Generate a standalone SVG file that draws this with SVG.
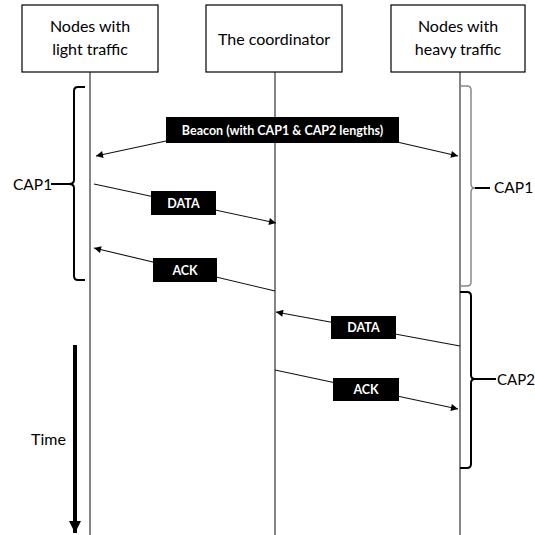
<svg xmlns="http://www.w3.org/2000/svg" width="535" height="535" viewBox="0 0 535 535">
<defs>
<marker id="ah" viewBox="0 0 10 10" refX="10" refY="5" markerWidth="9" markerHeight="7" markerUnits="userSpaceOnUse" orient="auto">
<path d="M0,0 L10,5 L0,10 z" fill="#000"/>
</marker>
<marker id="tah" viewBox="0 0 10 10" refX="10" refY="5" markerWidth="12" markerHeight="12" markerUnits="userSpaceOnUse" orient="auto">
<path d="M0,0 L10,5 L0,10 z" fill="#000"/>
</marker>
</defs>
<style>
.box{fill:#fff;stroke:#000;stroke-width:1.2}
.hdr{font-family:Lato,"Liberation Sans",sans-serif;font-size:16px;fill:#000;text-anchor:middle}
.life{stroke:#222;stroke-width:1.1;fill:none}
.msg{stroke:#111;stroke-width:1.1;fill:none}
.lbl{fill:#000}
.lt{font-family:Lato,"Liberation Sans",sans-serif;font-weight:bold;font-size:12.5px;fill:#fff;text-anchor:middle}
.brace{fill:none;stroke:#000;stroke-width:2}
.brace2{fill:none;stroke:#888;stroke-width:1.5}
.cap{font-family:Lato,"Liberation Sans",sans-serif;font-size:15.5px;fill:#000}
</style>
<g id="node-light">
<rect class="box" x="22" y="5" width="136" height="67"/>
<text class="hdr" x="90" y="32">Nodes with</text>
<text class="hdr" x="90" y="55">light traffic</text>
<line class="life" x1="90" y1="72" x2="90" y2="535"/>
</g>
<g id="node-coord">
<rect class="box" x="206" y="5" width="136" height="67"/>
<text class="hdr" x="274" y="45">The coordinator</text>
<line class="life" x1="275" y1="72" x2="275" y2="535"/>
</g>
<g id="node-heavy">
<rect class="box" x="391" y="5" width="134" height="67"/>
<text class="hdr" x="458" y="32">Nodes with</text>
<text class="hdr" x="458" y="55">heavy traffic</text>
<line class="life" x1="460" y1="72" x2="460" y2="535"/>
</g>
<g id="connectors">
<line class="msg" x1="166" y1="141" x2="96" y2="156" marker-end="url(#ah)"/>
<line class="msg" x1="397" y1="142" x2="458" y2="156" marker-end="url(#ah)"/>
<line class="msg" x1="94" y1="184" x2="276" y2="223" marker-end="url(#ah)"/>
<line class="msg" x1="275" y1="291" x2="94" y2="248" marker-end="url(#ah)"/>
<line class="msg" x1="460" y1="346" x2="276" y2="312" marker-end="url(#ah)"/>
<line class="msg" x1="275" y1="370" x2="458" y2="409" marker-end="url(#ah)"/>
</g>
<g id="label-beacon">
<rect class="lbl" x="166" y="117" width="233" height="26"/>
<text class="lt" x="282.5" y="134.5">Beacon (with CAP1 &amp; CAP2 lengths)</text>
</g>
<g id="label-data1">
<rect class="lbl" x="151" y="191" width="65" height="24"/>
<text class="lt" x="183.5" y="207.5">DATA</text>
</g>
<g id="label-ack1">
<rect class="lbl" x="153" y="258" width="64" height="24"/>
<text class="lt" x="185" y="274.5">ACK</text>
</g>
<g id="label-data2">
<rect class="lbl" x="331" y="316" width="65" height="23"/>
<text class="lt" x="363.5" y="332">DATA</text>
</g>
<g id="label-ack2">
<rect class="lbl" x="333" y="378" width="66" height="23"/>
<text class="lt" x="366" y="394">ACK</text>
</g>
<g id="brace-cap1-left">
<path class="brace" d="M85,87 L78,87 Q74,87 74,91 L74,180 Q74,184 69,184 Q74,184 74,188 L74,276 Q74,280 78,280 L85,280"/>
<line class="brace" x1="51" y1="184" x2="69" y2="184"/>
<text class="cap" x="13" y="190">CAP1</text>
</g>
<g id="brace-cap1-right">
<path class="brace2" d="M460,86 L467,86 Q471,86 471,90 L471,184 Q471,188 475,188 Q471,188 471,192 L471,282 Q471,286 467,286 L460,286"/>
<line class="brace" x1="475" y1="188" x2="490" y2="188"/>
<text class="cap" x="494" y="193">CAP1</text>
</g>
<g id="brace-cap2">
<path class="brace" d="M460,292 L467,292 Q471,292 471,296 L471,375 Q471,379 475,379 Q471,379 471,383 L471,464 Q471,468 467,468 L460,468"/>
<line class="brace" x1="475" y1="379" x2="496" y2="379"/>
<text class="cap" x="497" y="385" style="font-size:15px">CAP2</text>
</g>
<g id="time">
<line x1="75" y1="345" x2="75" y2="533" stroke="#000" stroke-width="4" marker-end="url(#tah)"/>
<text class="cap" x="31" y="445" style="font-size:16px">Time</text>
</g>
</svg>
